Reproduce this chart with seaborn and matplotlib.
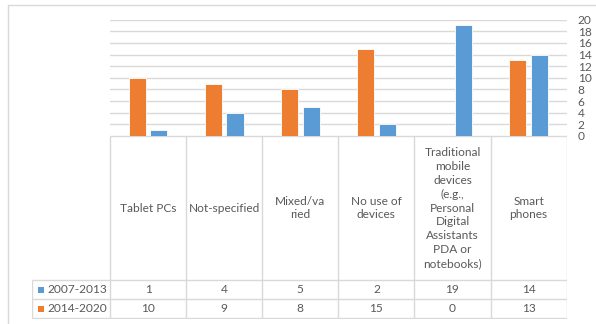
import matplotlib
matplotlib.use("Agg")
import matplotlib.pyplot as plt
import matplotlib.lines as mlines
import seaborn as sns
import pandas as pd

# Device categories and counts per period
categories = [
    "Tablet PCs",
    "Not-specified",
    "Mixed/varied",
    "No use of devices",
    "Traditional mobile devices",
    "Smart phones",
]
header_labels = [
    "Tablet PCs",
    "Not-specified",
    "Mixed/va\nried",
    "No use of\ndevices",
    "Traditional\nmobile\ndevices\n(e.g.,\nPersonal\nDigital\nAssistants\nPDA or\nnotebooks)",
    "Smart\nphones",
]
periods = ["2007-2013", "2014-2020"]
counts_2007_2013 = [1, 4, 5, 2, 19, 14]
counts_2014_2020 = [10, 9, 8, 15, 0, 13]
y_ticks = list(range(0, 21, 2))

colors = {"2007-2013": "#5B9BD5", "2014-2020": "#ED7D31"}
text_color = "#595959"
line_color = "#D9D9D9"
fs = 8.6

df = pd.DataFrame({
    "category": categories * 2,
    "period": ["2007-2013"] * 6 + ["2014-2020"] * 6,
    "count": counts_2007_2013 + counts_2014_2020,
})

sns.set_theme(style="white")
plt.rcParams["font.family"] = ["Lato", "DejaVu Sans"]

W, H = 596, 324
fig = plt.figure(figsize=(W / 100, H / 100), dpi=100)

def px_rect(x0, y0, x1, y1):
    return [x0 / W, 1 - y1 / H, (x1 - x0) / W, (y1 - y0) / H]

# chart area
ax = fig.add_axes(px_rect(110, 19.6, 566.7, 136))
sns.barplot(
    data=df, x="category", y="count", hue="period",
    order=categories, hue_order=["2014-2020", "2007-2013"],
    palette=colors, saturation=1, width=0.57, gap=0.21, legend=False,
    edgecolor="white", linewidth=0.6, ax=ax, zorder=3,
)
ax.set_xlim(-0.5, 5.5)
ax.set_ylim(0, 20)
ax.set_yticks(y_ticks)
ax.yaxis.tick_right()
ax.tick_params(axis="y", length=0, pad=8, labelsize=fs, labelcolor=text_color)
ax.set_xticks([])
ax.set_xlabel("")
ax.set_ylabel("")
ax.grid(axis="y", color=line_color, linewidth=1, zorder=0)
for t in ax.get_yticklabels():
    t.set_horizontalalignment("left")
for s in ax.spines.values():
    s.set_visible(False)

# data table below the chart
unit_px = (566.7 - 110) / 6
legend_w = (110 - 32) / unit_px
x_left = -0.5 - legend_w
tax = fig.add_axes(px_rect(32, 136, 566.7, 318.5))
tax.set_xlim(x_left, 5.5)
tax.set_ylim(318.5, 136)
tax.axis("off")

row_top, row_mid, row_bot = 280, 299.3, 318.3
lkw = dict(color=line_color, linewidth=1, solid_capstyle="butt")
tax.plot([-0.5, 5.5], [136, 136], **lkw)
for yy in (row_top, row_mid, row_bot):
    tax.plot([x_left, 5.5], [yy, yy], **lkw)
for i in range(7):
    tax.plot([i - 0.5, i - 0.5], [136, row_bot], **lkw)
tax.plot([x_left, x_left], [row_top, row_bot], **lkw)

for i, lab in enumerate(header_labels):
    tax.text(i, (136 + row_top) / 2, lab, ha="center", va="center",
             fontsize=fs, color=text_color, linespacing=1.32)

rows = [("2007-2013", counts_2007_2013, (row_top + row_mid) / 2),
        ("2014-2020", counts_2014_2020, (row_mid + row_bot) / 2)]
for name, vals, yc in rows:
    for i, v in enumerate(vals):
        tax.text(i, yc, str(v), ha="center", va="center",
                 fontsize=fs, color=text_color)
    tax.plot([x_left + 9 / unit_px], [yc], marker="s", markersize=4.8,
             markeredgewidth=0, color=colors[name], linestyle="none")
    tax.text(x_left + 15 / unit_px, yc, name, ha="left", va="center",
             fontsize=fs, color=text_color)

# outer chart frame
fig.add_artist(mlines.Line2D([8 / W, 1], [1 - 5 / H, 1 - 5 / H],
                             color=line_color, linewidth=1))
fig.add_artist(mlines.Line2D([8 / W, 8 / W], [0, 1 - 5 / H],
                             color=line_color, linewidth=1))

fig.savefig("out.png", dpi=100, facecolor="white")
